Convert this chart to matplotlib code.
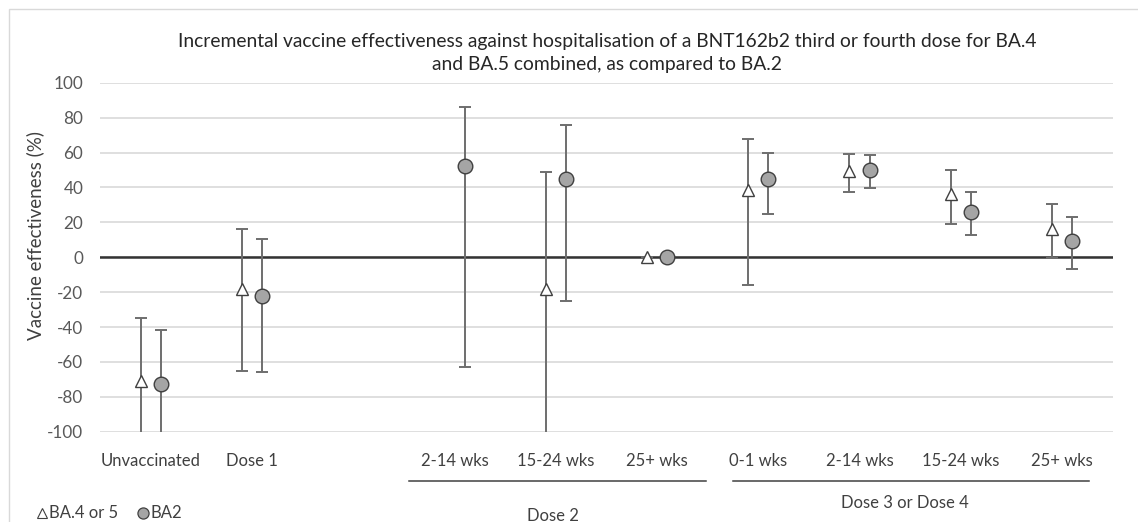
import numpy as np
import matplotlib
matplotlib.use("Agg")
import matplotlib.pyplot as plt
from matplotlib.lines import Line2D
from matplotlib.patches import Rectangle

plt.rcParams['font.family'] = ['Lato', 'DejaVu Sans']
plt.rcParams['axes.unicode_minus'] = False

# categories (index 2 is an empty gap between Dose 1 and the Dose 2 group)
categories = ["Unvaccinated", "Dose 1", "", "2-14 wks", "15-24 wks", "25+ wks",
              "0-1 wks", "2-14 wks", "15-24 wks", "25+ wks"]

nan = np.nan
# BA.4 or 5 (triangles); lower bounds below -100 run off the axis
ba45 = [-71, -18.5, nan, -18, 0, 38.5, 49.3, 36, 16]
ba45_lo = [-105, -65, nan, -105, 0, -16, 37.5, 19, -0.4]
ba45_hi = [-35, 16, nan, 49, 0, 67.5, 59, 50, 30.6]
# BA2 (circles)
ba2 = [-72.5, -22.4, 52.4, 45, 0, 44.7, 50, 25.8, 9.2]
ba2_lo = [-105, -65.8, -62.7, -25, 0, 24.7, 39.6, 13, -6.7]
ba2_hi = [-41.5, 10.3, 86, 76, 0, 59.7, 58.5, 37.5, 22.8]

# values are for every category except the empty gap
pos = np.array([0, 1, 3, 4, 5, 6, 7, 8, 9], dtype=float)

title_lines = ["Incremental vaccine effectiveness against hospitalisation of a BNT162b2 third or fourth dose for BA.4",
               "and BA.5 combined, as compared to BA.2"]
groups = ["Dose 2", "Dose 3 or Dose 4"]

W, H = 1138, 522
fig = plt.figure(figsize=(W / 100, H / 100), dpi=100)
ax = fig.add_axes([100 / W, 1 - 431.7 / H, 1012.7 / W, 349 / H])

bar_col = '#6e6e6e'
edge_col = '#404040'
txt_col = '#404040'


def draw(off, y, lo, hi, marker, face, ms):
    y = np.asarray(y, float)
    err = np.vstack([y - np.asarray(lo, float), np.asarray(hi, float) - y])
    ax.errorbar(pos + off, y, yerr=err, fmt='none', ecolor=bar_col,
                elinewidth=1.4, capsize=4, capthick=1.4, zorder=3)
    ax.plot(pos + off, y, linestyle='none', marker=marker, ms=ms,
            markerfacecolor=face, markeredgecolor=edge_col, markeredgewidth=1.0, zorder=4)


draw(-0.1, ba45, ba45_lo, ba45_hi, '^', 'white', 9)
draw(0.1, ba2, ba2_lo, ba2_hi, 'o', '#a5a5a5', 10.5)

ax.set_xlim(-0.5, 9.5)
ax.set_ylim(-100, 100)
ax.set_yticks(np.arange(-100, 101, 20))
ax.yaxis.grid(True, color='#d9d9d9', lw=1.2)
ax.set_axisbelow(True)
ax.axhline(0, color='#333333', lw=1.8, zorder=2)
for s in ax.spines.values():
    s.set_visible(False)
ax.tick_params(axis='both', length=0)
ax.tick_params(axis='y', labelsize=12.3, labelcolor='#595959', pad=12)
ax.set_xticks(np.arange(len(categories)))
ax.set_xticklabels(categories, fontsize=12, color=txt_col)
ax.tick_params(axis='x', pad=15)
fig.text(35 / W, 1 - 235 / H, "Vaccine effectiveness (%)", rotation=90,
         ha='center', va='center', fontsize=13.5, color=txt_col)

# group brackets below the tick labels
trans = ax.get_xaxis_transform()
ax.plot([2.55, 5.48], [-0.140, -0.140], color='#404040', lw=1.1, transform=trans, clip_on=False)
ax.plot([5.75, 9.27], [-0.140, -0.140], color='#404040', lw=1.1, transform=trans, clip_on=False)
ax.text(3.97, -0.2415, groups[0], transform=trans, ha='center', va='center', fontsize=12, color=txt_col)
ax.text(7.45, -0.204, groups[1], transform=trans, ha='center', va='center', fontsize=12, color=txt_col)

# title
fig.text(607 / W, 1 - 42 / H, title_lines[0], ha='center', va='center', fontsize=13.9, color='#262626')
fig.text(607 / W, 1 - 65 / H, title_lines[1], ha='center', va='center', fontsize=13.9, color='#262626')

# legend at bottom left
ly = 1 - 513 / H
fig.add_artist(Line2D([41.5 / W], [ly], marker='^', ms=6.5, markerfacecolor='white',
                      markeredgecolor=edge_col, markeredgewidth=0.8, linestyle='none'))
fig.text(49 / W, ly, "BA.4 or 5", ha='left', va='center', fontsize=12, color=txt_col)
fig.add_artist(Line2D([142.5 / W], [ly], marker='o', ms=8, markerfacecolor='#a5a5a5',
                      markeredgecolor=edge_col, markeredgewidth=0.9, linestyle='none'))
fig.text(150 / W, ly, "BA2", ha='left', va='center', fontsize=12, color=txt_col)

# chart area border (left and top edges visible)
fig.add_artist(Rectangle((9 / W, -0.1), 1.2, 1.1 - 9 / H, transform=fig.transFigure,
                         fill=False, edgecolor='#d9d9d9', lw=1.0))

fig.savefig("out.png", dpi=100)
